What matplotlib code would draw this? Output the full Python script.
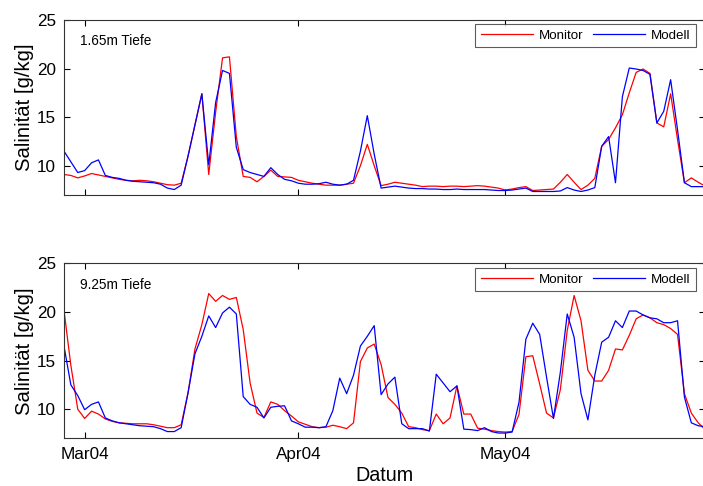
import numpy as np
import pandas as pd
import matplotlib
matplotlib.use("Agg")
import matplotlib.pyplot as plt
import matplotlib.dates as mdates

plt.rcParams['font.family'] = ['Liberation Sans', 'DejaVu Sans']

# daily values, 27 Feb 2004 - 30 May 2004
dates = pd.date_range('2004-02-27', periods=94, freq='D')

# ----- 1.65m Tiefe -----
monitor_top = [
    9.1, 9.0, 8.75, 8.95, 9.2, 9.05, 8.9, 8.75, 8.6, 8.5,
    8.45, 8.5, 8.45, 8.35, 8.2, 8.05, 8.0, 8.2, 11.0, 14.2,
    17.4, 9.1, 15.5, 21.1, 21.2, 13.0, 8.9, 8.8, 8.35, 8.9,
    9.55, 8.9, 8.85, 8.8, 8.5, 8.35, 8.2, 8.1, 8.0, 8.0,
    8.0, 8.1, 8.2, 10.0, 12.2, 10.0, 7.95, 8.1, 8.3, 8.2,
    8.1, 8.0, 7.85, 7.9, 7.9, 7.85, 7.9, 7.9, 7.85, 7.9,
    7.95, 7.9, 7.8, 7.7, 7.5, 7.6, 7.75, 7.85, 7.45, 7.5,
    7.55, 7.6, 8.3, 9.1, 8.3, 7.55, 8.0, 8.7, 12.0, 12.7,
    13.9, 15.25, 17.5, 19.6, 19.95, 19.5, 14.4, 14.0, 17.4, 12.7,
    8.25, 8.75, 8.3, 7.9]
modell_top = [
    11.5, 10.4, 9.3, 9.5, 10.3, 10.6, 9.0, 8.8, 8.7, 8.5,
    8.4, 8.35, 8.3, 8.25, 8.1, 7.7, 7.55, 8.0, 11.0, 14.2,
    17.4, 10.1, 16.5, 19.8, 19.5, 11.9, 9.6, 9.3, 9.1, 8.9,
    9.8, 9.1, 8.6, 8.45, 8.2, 8.1, 8.1, 8.15, 8.3, 8.1,
    8.0, 8.1, 8.5, 11.5, 15.15, 11.2, 7.7, 7.8, 7.9, 7.8,
    7.7, 7.65, 7.65, 7.6, 7.6, 7.55, 7.55, 7.6, 7.55, 7.55,
    7.55, 7.55, 7.5, 7.45, 7.45, 7.5, 7.6, 7.7, 7.35, 7.35,
    7.35, 7.35, 7.4, 7.75, 7.5, 7.35, 7.5, 7.75, 12.0, 13.0,
    8.25, 17.1, 20.05, 19.95, 19.8, 19.4, 14.4, 15.6, 18.85, 13.7,
    8.25, 7.85, 7.85, 7.85]

# ----- 9.25m Tiefe -----
monitor_bot = [
    20.2, 14.5, 10.0, 9.05, 9.8, 9.5, 9.0, 8.75, 8.6, 8.55,
    8.5, 8.5, 8.5, 8.4, 8.25, 8.1, 8.1, 8.4, 11.7, 16.2,
    18.7, 21.9, 21.1, 21.7, 21.3, 21.5, 18.2, 12.7, 9.6, 9.15,
    10.75, 10.5, 9.85, 9.3, 8.7, 8.45, 8.2, 8.1, 8.15, 8.35,
    8.2, 8.0, 8.6, 14.9, 16.3, 16.7, 14.6, 11.2, 10.5, 9.6,
    8.2, 8.1, 7.9, 7.8, 9.5, 8.5, 9.1, 12.4, 9.5, 9.5,
    8.05, 7.95, 7.8, 7.7, 7.65, 7.7, 9.45, 15.4, 15.5, 12.6,
    9.6, 9.1, 12.0, 18.1, 21.7, 19.1, 14.0, 12.9, 12.9, 14.0,
    16.2, 16.1, 17.6, 19.3, 19.7, 19.4, 18.9, 18.7, 18.3, 17.7,
    11.6, 9.6, 8.6, 7.9]
modell_bot = [
    16.5, 12.5, 11.4, 9.95, 10.5, 10.75, 9.1, 8.8, 8.6, 8.5,
    8.4, 8.3, 8.25, 8.2, 8.0, 7.7, 7.7, 8.1, 11.7, 15.7,
    17.5, 19.6, 18.4, 19.9, 20.5, 19.8, 11.3, 10.5, 10.2, 9.1,
    10.2, 10.3, 10.35, 8.8, 8.5, 8.15, 8.15, 8.1, 8.2, 9.85,
    13.2, 11.6, 13.5, 16.5, 17.5, 18.6, 11.5, 12.6, 13.3, 8.5,
    8.0, 8.0, 8.0, 7.75, 13.6, 12.7, 11.8, 12.4, 7.95, 7.9,
    7.8, 8.1, 7.7, 7.55, 7.55, 7.65, 10.7, 17.2, 18.85, 17.7,
    13.3, 9.05, 13.8, 19.8, 17.4, 11.6, 8.9, 13.5, 16.9, 17.4,
    19.1, 18.4, 20.1, 20.1, 19.7, 19.4, 19.3, 18.9, 18.9, 19.1,
    11.25, 8.6, 8.3, 8.2]

depth_labels = ['1.65m Tiefe', '9.25m Tiefe']
yticks = [10, 15, 20, 25]
legend_tops = [0.950, 0.448]   # figure fraction, top edge of each legend box

fig = plt.figure(figsize=(7.03, 4.86), dpi=100)
# right spine sits just outside the picture, as in the original export
ax1 = fig.add_axes([0.091, 0.599, 0.912, 0.360])
ax2 = fig.add_axes([0.091, 0.098, 0.912, 0.360])

panels = [(ax1, monitor_top, modell_top), (ax2, monitor_bot, modell_bot)]
x_end = dates[0] + pd.Timedelta(days=93.0)

for i, (ax, mon, mod) in enumerate(panels):
    ax.plot(dates, mon, color='red', lw=0.9, label='Monitor')
    ax.plot(dates, mod, color='blue', lw=0.9, label='Modell')
    ax.set_xlim(dates[0], x_end)
    ax.set_ylim(7, 25)
    ax.set_yticks(yticks)
    ax.xaxis.set_major_locator(mdates.MonthLocator())
    ax.xaxis.set_major_formatter(mdates.DateFormatter('%b%y'))
    ax.tick_params(direction='in', top=True, right=True, labelsize=12.3,
                   length=4.5, width=0.8, pad=6)
    for s in ax.spines.values():
        s.set_linewidth(0.8)
        s.set_color('#333333')
    ax.set_ylabel('Salinität [g/kg]', fontsize=14.6, labelpad=2)
    ax.text(0.025, 0.855, depth_labels[i], transform=ax.transAxes, fontsize=9.8)
    leg = ax.legend(loc='upper right', ncol=2, fontsize=9.6, frameon=True,
                    fancybox=False, edgecolor='#333333', handlelength=3.9,
                    bbox_to_anchor=(696 / 703, legend_tops[i]),
                    bbox_transform=fig.transFigure,
                    borderaxespad=0.0, borderpad=0.4, columnspacing=0.75,
                    handletextpad=0.45)
    leg.get_frame().set_linewidth(0.8)

ax1.tick_params(labelbottom=False)
ax2.set_xlabel('Datum', fontsize=14.2, labelpad=3)

plt.savefig('out.png', dpi=100)
